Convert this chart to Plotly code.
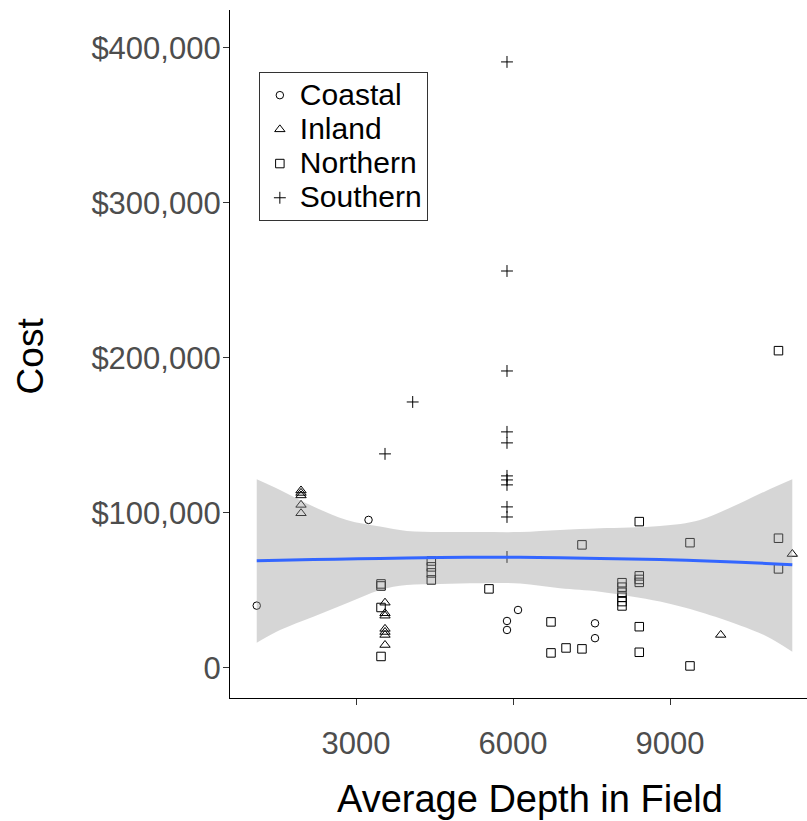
import plotly.graph_objects as go

# ---------------- data ----------------
coastal_x = [1103, 3239, 6096, 5885, 5885, 7567, 7567]
coastal_y = [40200, 95500, 37400, 30300, 24500, 28800, 19200]

inland_x = [1949, 1949, 1949, 1949, 1949,
            3554, 3554, 3554, 3554, 3554, 3554, 3554,
            9969, 11337]
inland_y = [114500, 112900, 111300, 105200, 99800,
            42100, 35300, 33700, 25200, 23200, 21300, 14800,
            21300, 73500]

northern_x = [3478, 3478, 3478, 3478,
              4439, 4439, 4439, 4439,
              5541, 6726, 6726, 7013, 7318, 7318,
              8083, 8083, 8083, 8083, 8083, 8083,
              8413, 8413, 8413, 8413, 8413, 8413,
              9382, 9382,
              11073, 11073, 11073]
northern_y = [54200, 52900, 39000, 7400,
              69000, 65200, 61300, 56800,
              51000, 29700, 9700, 12900, 79400, 12300,
              55000, 52100, 48800, 45600, 42800, 40000,
              94400, 59400, 57100, 55200, 26600, 10100,
              80800, 1300,
              204700, 83700, 63900]

southern_x = [3554, 4083, 5885, 5885, 5885, 5885, 5885, 5885, 5885, 5885,
              5885, 5885, 5885]
southern_y = [138100, 171600, 391000, 256100, 191600, 152300, 145200, 123900,
              121300, 118100, 103900, 97400, 71600]

# smoother (loess fit with confidence band)
smooth_x = [1103, 1548, 2184, 2822, 3459, 3969, 4605, 5369, 6134, 6898,
            7662, 8809, 9573, 10338, 10834, 11337]
smooth_fit = [69200, 69500, 69900, 70300, 70600, 71000, 71200, 71400, 71400,
              71100, 70600, 69900, 69200, 68200, 67400, 66500]
smooth_upper = [121700, 114800, 104100, 95500, 91200, 88400, 87700, 87700,
                87700, 89000, 90100, 91600, 95500, 106300, 114200, 121700]
smooth_lower = [16300, 24500, 33100, 41700, 50300, 53500, 54200, 54600,
                54500, 51400, 49200, 42800, 36100, 27400, 20600, 10500]

y_tickvals = [0, 100000, 200000, 300000, 400000]
y_ticktext = ["0", "$100,000", "$200,000", "$300,000", "$400,000"]
x_tickvals = [3000, 6000, 9000]
x_ticktext = ["3000", "6000", "9000"]

# ---------------- figure ----------------
FONT = "Liberation Sans, Arial, sans-serif"
fig = go.Figure()

def pts(name, xs, ys, symbol, size):
    fig.add_trace(go.Scatter(
        x=xs, y=ys, mode="markers",
        name='<span style="font-size:30px">%s</span>' % name,
        marker=dict(symbol=symbol, size=size, color="black",
                    line=dict(color="black", width=1)),
        hoverinfo="skip"))

pts("Coastal", coastal_x, coastal_y, "circle-open", 7.5)
pts("Inland", inland_x, inland_y, "triangle-up-open", 9)
pts("Northern", northern_x, northern_y, "square-open", 8.5)
pts("Southern", southern_x, southern_y, "cross-thin-open", 8.5)

# confidence band (drawn over the points, like geom_smooth)
fig.add_trace(go.Scatter(x=smooth_x, y=smooth_lower, mode="lines",
                         line=dict(width=0, color="rgba(0,0,0,0)", shape="spline"),
                         showlegend=False, hoverinfo="skip"))
fig.add_trace(go.Scatter(x=smooth_x, y=smooth_upper, mode="lines",
                         line=dict(width=0, color="rgba(0,0,0,0)", shape="spline"),
                         fill="tonexty", fillcolor="rgba(153,153,153,0.4)",
                         showlegend=False, hoverinfo="skip"))
fig.add_trace(go.Scatter(x=smooth_x, y=smooth_fit, mode="lines",
                         line=dict(color="#3366FF", width=3, shape="spline"),
                         showlegend=False, hoverinfo="skip"))

fig.update_layout(
    width=807, height=821,
    margin=dict(l=230, r=0, t=10, b=123),
    paper_bgcolor="white", plot_bgcolor="white",
    font=dict(family=FONT, color="black"),
    showlegend=True,
    legend=dict(x=0.05, y=0.9098, xanchor="left", yanchor="top",
                traceorder="normal",
                bgcolor="white", bordercolor="#333333", borderwidth=1,
                font=dict(size=24, color="black", family=FONT),
                tracegroupgap=0),
    xaxis=dict(range=[592, 11618], tickvals=x_tickvals, ticktext=x_ticktext,
               showgrid=False, zeroline=False, showline=True,
               linecolor="black", linewidth=1.2, ticks="outside",
               ticklen=6, tickcolor="#333333", tickwidth=1.2,
               ticklabelstandoff=12,
               tickfont=dict(size=31, color="#4D4D4D", family=FONT)),
    yaxis=dict(range=[-19400, 424500], tickvals=y_tickvals, ticktext=y_ticktext,
               showgrid=False, zeroline=False, showline=True,
               linecolor="black", linewidth=1.2, ticks="outside",
               ticklen=6, tickcolor="#333333", tickwidth=1.2,
               ticklabelstandoff=-4,
               tickfont=dict(size=31, color="#4D4D4D", family=FONT)),
    annotations=[
        dict(text="Average Depth in Field", xref="paper", yref="paper",
             x=0.52, y=-0.147, xanchor="center", yanchor="middle",
             showarrow=False, font=dict(size=38, color="black", family=FONT)),
        dict(text="Cost", xref="paper", yref="paper", x=-0.346, y=0.497,
             xanchor="center", yanchor="middle", textangle=-90,
             showarrow=False, font=dict(size=37, color="black", family=FONT)),
    ],
)

fig.write_html("out.html")
